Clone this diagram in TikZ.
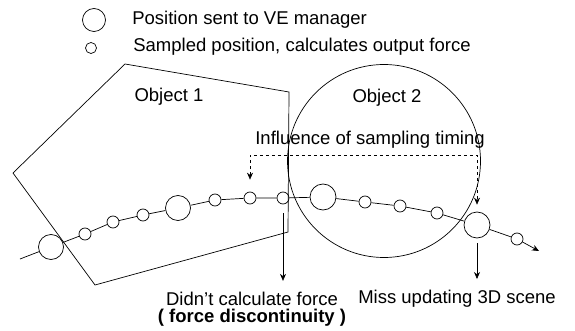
\documentclass[tikz,border=0pt]{standalone}
\usepackage{fontspec}
\setmainfont{Liberation Sans}
\usetikzlibrary{
	arrows.meta,
	positioning
}

\begin{document}
\begin{tikzpicture}[x=1pt, y=-1pt, line width=0.7pt,
		sent/.style={circle, draw, inner sep=0pt, minimum size=25pt},
		samp/.style={circle, draw, inner sep=0pt, minimum size=12pt},
		lbl/.style={font=\fontsize{18.5}{20}\selectfont, inner sep=0pt},
		fall/.style={-{Stealth[length=7pt, width=6pt]}}]
		\useasboundingbox (0,0) rectangle (575,331);
		% legend
		\node[sent, minimum size=23pt] (legbig) at (94,20) {};
		\node[samp, minimum size=11pt] (legsmall) at (91,48) {};
		\node[lbl, anchor=west] (legbigtxt) at (132,20) {Position sent to VE manager};
		\node[lbl, anchor=west] (legsmalltxt) at (133,47) {Sampled position, calculates output force};
		% objects
		\draw (125,64) -- (289,92) -- (288,232) -- (95,285) -- (13,173) -- cycle;
		\draw (384,161) circle (96.5);
		\node[lbl] (obja) at (169,97) {Object 1};
		\node[lbl] (objb) at (387,98) {Object 2};
		% trajectory
		\coordinate (start) at (20,259);
		\node[sent] (p1) at (51,247) {};
		\node[samp] (s1) at (85,234) {};
		\node[samp] (s2) at (113,222) {};
		\node[samp] (s3) at (143,215) {};
		\node[sent] (p2) at (178,208) {};
		\node[samp] (s4) at (215,200) {};
		\node[samp] (s5) at (250,198) {};
		\node[samp] (s6) at (283,198) {};
		\node[sent, minimum size=26pt] (p3) at (323,197) {};
		\node[samp] (s7) at (365,202) {};
		\node[samp] (s8) at (400,206) {};
		\node[samp] (s9) at (437,213) {};
		\node[sent, minimum size=26pt] (p4) at (477,225) {};
		\node[samp] (s10) at (517,239) {};
		\coordinate (stop) at (539,251);
		\draw (start) -- (p1) -- (s1) -- (s2) -- (s3) -- (p2) -- (s4) -- (s5)
		-- (s6) -- (p3) -- (s7) -- (s8) -- (s9) -- (p4) -- (s10);
		\draw[fall] (s10) -- (stop);
		% sampling timing
		\node[lbl, anchor=west] (timing) at (255,140) {Influence of sampling timing};
		\draw[dashed, line width=0.6pt, {Stealth[length=7pt, width=6pt]}-{Stealth[length=7pt, width=6pt]}]
		([yshift=12pt]s5.north) |- (366,155) -| ([yshift=7pt]p4.north);
		% results
		\node[lbl] (nocalc) at (252,299) {Didn't calculate force};
		\node[lbl, font=\fontsize{18.5}{20}\selectfont\bfseries, below=3pt of nocalc] (discont) {( force discontinuity )};
		\node[lbl] (noupd) at (457,299) {Miss updating 3D scene};
		\draw[fall] ([yshift=-9pt]s6.south) -- ([yshift=11pt]nocalc.north -| s6);
		\draw[fall] ([yshift=-5pt]p4.south) -- ([yshift=11pt]noupd.north -| p4);
	\end{tikzpicture}
\end{document}
